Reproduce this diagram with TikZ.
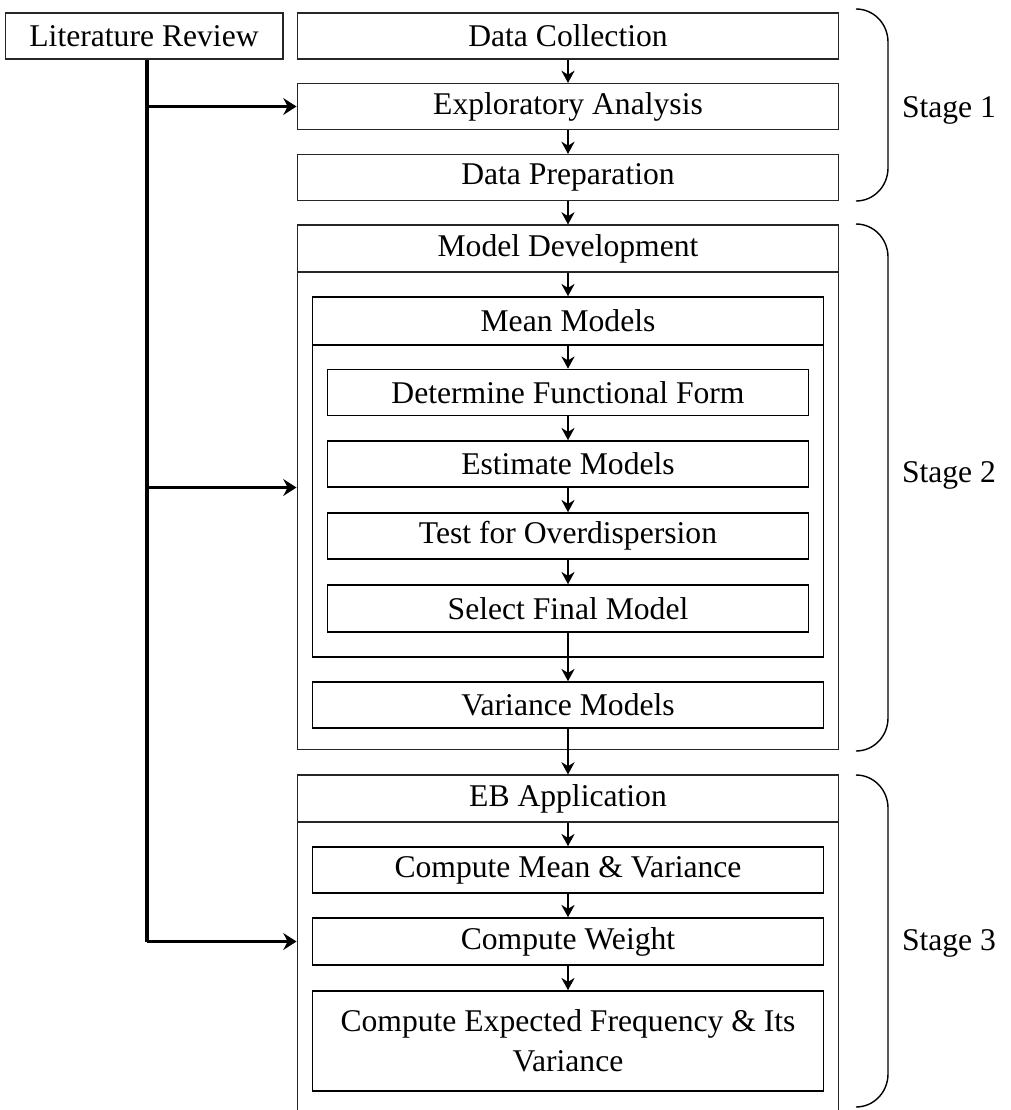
\documentclass[tikz,border=0pt]{standalone}
\usepackage{fontspec}
\setmainfont{Liberation Serif}
\usetikzlibrary{arrows.meta,calc}
\tikzset{
  outerbox/.style={draw=black!85, line width=0.6pt, minimum width=10.84cm, inner sep=0pt},
  headbox/.style={outerbox, minimum height=0.92cm},
  innerbox/.style={draw, line width=0.9pt, minimum width=10.22cm, minimum height=0.92cm, inner sep=0pt},
  subbox/.style={innerbox, minimum width=9.62cm},
  flow/.style={-{Stealth[length=7pt,width=7.5pt]}, line width=1.3pt},
  feed/.style={line width=1.8pt},
  feedarrow/.style={feed, -{Stealth[length=7.5pt,width=9.5pt]}},
  stagebrace/.style={line width=0.8pt},
}

\begin{document}
\begin{tikzpicture}[x=0.02cm,y=-0.02cm,font=\fontsize{18}{21}\selectfont]
  \useasboundingbox (0,0) rectangle (1011,1110);
  % stage 1
  \node[headbox, minimum width=5.56cm] (litrev) at (144,36) {Literature Review};
  \node[headbox] (datacoll) at (568,36) {Data Collection};
  \node[headbox] (explore) at (568,106.5) {Exploratory Analysis};
  \node[headbox] (dataprep) at (568,177.5) {Data Preparation};
  % stage 2: model development
  \node[outerbox, minimum height=10.5cm] (devbox) at (568,487.5) {};
  \node[headbox, minimum height=0.94cm] (devhead) at (568,248.5) {Model Development};
  \node[innerbox, minimum height=7.2cm] (meanbox) at (568,477) {};
  \node[innerbox, minimum height=0.96cm] (meanhead) at (568,321) {Mean Models};
  \node[subbox] (funcform) at (568,392.5) {Determine Functional Form};
  \node[subbox] (estimate) at (568,464) {Estimate Models};
  \node[subbox] (overdisp) at (568,536) {Test for Overdispersion};
  \node[subbox, minimum height=0.94cm] (final) at (568,608.5) {Select Final Model};
  \node[innerbox] (variance) at (568,705) {Variance Models};
  % stage 3: EB application
  \node[outerbox, minimum height=6.8cm] (ebbox) at (568,945) {};
  \node[headbox, minimum height=0.94cm] (ebhead) at (568,798.5) {EB Application};
  \node[innerbox] (compmean) at (568,870) {Compute Mean \& Variance};
  \node[innerbox, minimum height=0.94cm] (compweight) at (568,941.5) {Compute Weight};
  \node[innerbox, minimum height=2cm, align=center,
        font=\fontsize{18}{23}\selectfont] (compexp) at (568,1041)
    {Compute Expected Frequency \& Its\\Variance};
  % main flow
  \foreach \a/\b in {datacoll/explore, explore/dataprep, dataprep/devhead,
                     devhead/meanhead, meanhead/funcform, funcform/estimate,
                     estimate/overdisp, overdisp/final, final/variance,
                     variance/ebhead, ebhead/compmean, compmean/compweight,
                     compweight/compexp}{
    \draw[flow] (\a.south) -- (\b.north);
  }
  % literature review feeds
  \coordinate (trunk) at (147,941.5);
  \draw[feed] (litrev.south -| trunk) -- (trunk);
  \foreach \dest/\via in {explore/explore, devbox/devbox, ebbox/compweight}{
    \draw[feedarrow] (trunk |- \via.west) -- (\dest.west |- \via.west);
  }
  % stage braces
  \draw[stagebrace] (856,9) to[out=0,in=90] (888,42) -- (888,168) to[out=-90,in=0] (856,201);
  \draw[stagebrace] (856,224) to[out=0,in=90] (888,257) -- (888,718) to[out=-90,in=0] (856,751);
  \draw[stagebrace] (856,775) to[out=0,in=90] (888,808) -- (888,1074) to[out=-90,in=0] (856,1107);
  \node (stage1) at (949,110) {Stage 1};
  \node (stage2) at (949,475) {Stage 2};
  \node (stage3) at (949,943) {Stage 3};
\end{tikzpicture}
\end{document}
